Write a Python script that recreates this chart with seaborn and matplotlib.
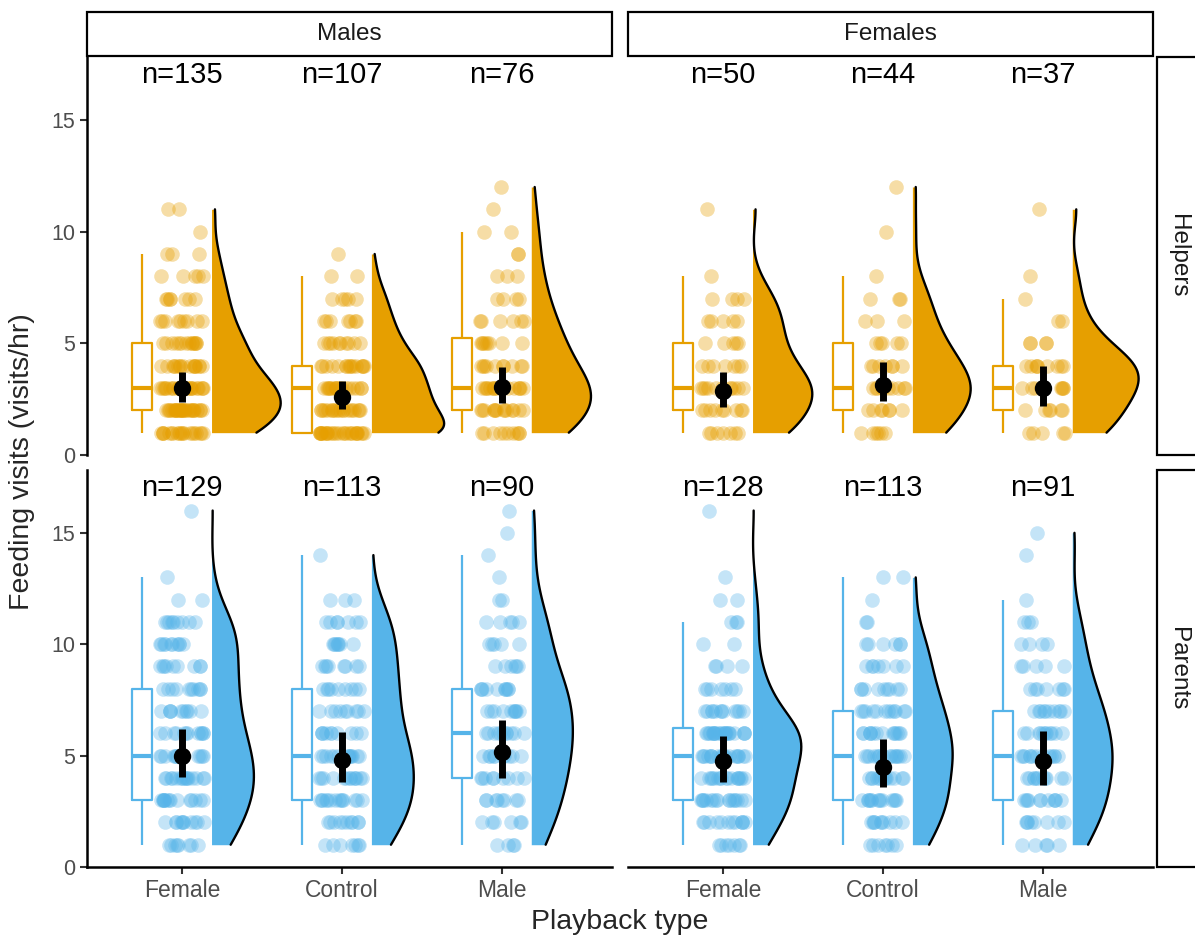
import numpy as np
import pandas as pd
import matplotlib
matplotlib.use("Agg")
import matplotlib.pyplot as plt
from matplotlib.patches import Rectangle
import seaborn as sns

np.random.seed(7)  # stripplot jitter

# feeding rates come in whole visits/hr; each list = how many birds at 1..16 visits/hr
visits = list(range(1, 17))

helper_m_female = [20, 30, 27, 17, 14, 9, 7, 5, 3, 1, 2, 0, 0, 0, 0, 0]
helper_m_control = [28, 20, 18, 16, 10, 7, 5, 2, 1, 0, 0, 0, 0, 0, 0, 0]
helper_m_male = [10, 14, 15, 10, 8, 6, 4, 3, 2, 2, 1, 1, 0, 0, 0, 0]
helper_f_female = [7, 9, 11, 7, 5, 5, 4, 1, 0, 0, 1, 0, 0, 0, 0, 0]
helper_f_control = [6, 7, 10, 7, 5, 3, 3, 1, 0, 1, 0, 1, 0, 0, 0, 0]
helper_f_male = [5, 6, 8, 9, 4, 2, 1, 1, 0, 0, 1, 0, 0, 0, 0, 0]
parent_m_female = [8, 11, 15, 16, 15, 12, 10, 10, 9, 10, 9, 2, 1, 0, 0, 1]
parent_m_control = [7, 10, 14, 13, 14, 10, 9, 9, 8, 8, 7, 3, 0, 1, 0, 0]
parent_m_male = [4, 6, 8, 9, 10, 11, 10, 10, 6, 5, 5, 2, 1, 1, 1, 1]
parent_f_female = [7, 12, 17, 17, 20, 23, 12, 7, 4, 2, 3, 2, 1, 0, 0, 1]
parent_f_control = [7, 10, 14, 13, 16, 14, 12, 9, 7, 6, 2, 1, 2, 0, 0, 0]
parent_f_male = [5, 8, 11, 11, 13, 11, 10, 7, 5, 4, 3, 1, 0, 1, 1, 0]

# model estimates with 95% CI (black point + bar)
est_helper_m = [3.0, 2.6, 3.05]
lo_helper_m = [2.37, 2.05, 2.35]
hi_helper_m = [3.73, 3.3, 3.95]
est_helper_f = [2.85, 3.15, 3.0]
lo_helper_f = [2.15, 2.4, 2.2]
hi_helper_f = [3.7, 4.15, 4.0]
est_parent_m = [5.0, 4.8, 5.15]
lo_parent_m = [4.05, 3.8, 4.0]
hi_parent_m = [6.2, 6.05, 6.6]
est_parent_f = [4.75, 4.5, 4.75]
lo_parent_f = [3.8, 3.6, 3.7]
hi_parent_f = [5.9, 5.75, 6.1]

playback = ["Female", "Control", "Male"]
sexes = ["Males", "Females"]
roles = ["Helpers", "Parents"]

counts = {
    ("Helpers", "Males"): [helper_m_female, helper_m_control, helper_m_male],
    ("Helpers", "Females"): [helper_f_female, helper_f_control, helper_f_male],
    ("Parents", "Males"): [parent_m_female, parent_m_control, parent_m_male],
    ("Parents", "Females"): [parent_f_female, parent_f_control, parent_f_male],
}
estimates = {
    ("Helpers", "Males"): (est_helper_m, lo_helper_m, hi_helper_m),
    ("Helpers", "Females"): (est_helper_f, lo_helper_f, hi_helper_f),
    ("Parents", "Males"): (est_parent_m, lo_parent_m, hi_parent_m),
    ("Parents", "Females"): (est_parent_f, lo_parent_f, hi_parent_f),
}

frames = []
for (role, sex), groups in counts.items():
    for i, (pb, c) in enumerate(zip(playback, groups)):
        v = np.repeat(visits, c).astype(float)
        frames.append(pd.DataFrame({"role": role, "sex": sex, "playback": pb, "pos": i, "visits": v}))
df = pd.concat(frames, ignore_index=True)

est_frames = []
for (role, sex), (e, lo, hi) in estimates.items():
    for i in range(3):
        est_frames.append(pd.DataFrame({"role": role, "sex": sex, "pos": i, "value": [lo[i], e[i], hi[i]]}))
est = pd.concat(est_frames, ignore_index=True)

sns.set_style("ticks")
plt.rcParams["font.family"] = ["Liberation Sans", "DejaVu Sans"]

colors = {"Helpers": "#E69F00", "Parents": "#56B4E9"}
# max half-width of the clouds differs by panel (area scaling across the whole figure)
violin_width = {("Helpers", "Males"): 0.91, ("Helpers", "Females"): 0.83,
                ("Parents", "Males"): 0.53, ("Parents", "Females"): 0.61}

W, H = 1195, 938
fig = plt.figure(figsize=(W / 100, H / 100), dpi=100)
col_x = {"Males": (87, 612), "Females": (628, 1153)}
row_y = {"Helpers": (57, 455), "Parents": (470, 867)}

for role in roles:
    for sex in sexes:
        x0, x1 = col_x[sex]
        y0, y1 = row_y[role]
        ax = fig.add_axes([x0 / W, 1 - y1 / H, (x1 - x0) / W, (y1 - y0) / H])
        d = df[(df.role == role) & (df.sex == sex)]
        e = est[(est.role == role) & (est.sex == sex)]
        col = colors[role]

        # half violins (cloud)
        n0 = len(ax.collections)
        sns.violinplot(data=d.assign(vpos=d.pos + 0.185), x="vpos", y="visits", native_scale=True,
                       cut=0, inner=None, density_norm="area", width=violin_width[(role, sex)],
                       color=col, saturation=1, linewidth=0, bw_method="silverman", bw_adjust=0.8,
                       ax=ax)
        for coll in ax.collections[n0:]:
            v = coll.get_paths()[0].vertices.copy()
            c = (v[:, 0].min() + v[:, 0].max()) / 2
            right = v[v[:, 0] > c + 1e-6]
            right = right[np.argsort(right[:, 1])]
            v[:, 0] = np.maximum(v[:, 0], c)
            coll.set_verts([v])
            ax.plot(right[:, 0], right[:, 1], color="black", lw=1.7)

        # rain
        sns.stripplot(data=d, x="pos", y="visits", native_scale=True, jitter=0.14, size=10.5,
                      color=col, alpha=0.35, linewidth=0, ax=ax)

        # boxes
        sns.boxplot(data=d.assign(bpos=d.pos - 0.25), x="bpos", y="visits", native_scale=True,
                    width=0.125, showfliers=False, fill=False, color=col, linewidth=1.6,
                    capprops={"visible": False}, medianprops={"linewidth": 3}, ax=ax)

        # estimate + CI
        l0 = len(ax.lines)
        sns.pointplot(data=e, x="pos", y="value", native_scale=True, estimator="median",
                      errorbar=("pi", 100), color="black", linestyle="none", ax=ax)
        for ln in ax.lines[l0:]:
            ln.set_zorder(6)
            if ln.get_marker() not in (None, "None", "", " "):
                ln.set_markersize(12.5)
                ln.set_markeredgewidth(0)
            else:
                ln.set_linewidth(5)
                ln.set_solid_capstyle("butt")

        for i in range(3):
            n = int((d.pos == i).sum())
            ax.text(i, 17, f"n={n}", ha="center", va="center", fontsize=21, color="black")

        ax.set_xlim(-0.594, 2.69)
        ax.set_ylim(0, 17.82)
        ax.set_xticks([0, 1, 2])
        ax.set_xticklabels(playback)
        ax.set_yticks([0, 5, 10, 15])
        ax.set_xlabel("")
        ax.set_ylabel("")
        ax.tick_params(axis="x", labelsize=16.5, colors="#333333", labelcolor="#4D4D4D",
                       length=5, width=1.5)
        ax.tick_params(axis="y", labelsize=15.5, colors="#333333", labelcolor="#4D4D4D",
                       length=5, width=1.5)
        for s in ["top", "right"]:
            ax.spines[s].set_visible(False)
        ax.spines["left"].set_linewidth(1.8)
        ax.spines["bottom"].set_linewidth(1.8)
        ax.spines["left"].set_color("black")
        ax.spines["bottom"].set_color("black")
        if sex != "Males":
            ax.spines["left"].set_visible(False)
            ax.tick_params(axis="y", left=False, labelleft=False)
        if role != "Parents":
            ax.spines["bottom"].set_visible(False)
            ax.tick_params(axis="x", bottom=False, labelbottom=False)

# facet strips
for sex in sexes:
    x0, x1 = col_x[sex]
    fig.add_artist(Rectangle((x0 / W, 1 - 56 / H), (x1 - x0) / W, 44 / H, transform=fig.transFigure,
                             facecolor="white", edgecolor="black", lw=1.6))
    fig.text((x0 + x1) / 2 / W, 1 - 34 / H, sex, ha="center", va="center", fontsize=17.5, color="#1A1A1A")
for role in roles:
    y0, y1 = row_y[role]
    fig.add_artist(Rectangle((1157 / W, 1 - y1 / H), 80 / W, (y1 - y0) / H, transform=fig.transFigure,
                             facecolor="white", edgecolor="black", lw=1.6, clip_on=False))
    fig.text(1178 / W, 1 - (y0 + y1) / 2 / H, role, ha="center", va="center", rotation=270,
             fontsize=17.5, color="#1A1A1A")

fig.text(620 / W, 1 - 922 / H, "Playback type", ha="center", va="center", fontsize=20.5)
fig.text(22 / W, 1 - 462 / H, "Feeding visits (visits/hr)", ha="center", va="center",
         rotation=90, fontsize=20.5)

fig.savefig("out.png", dpi=100)
